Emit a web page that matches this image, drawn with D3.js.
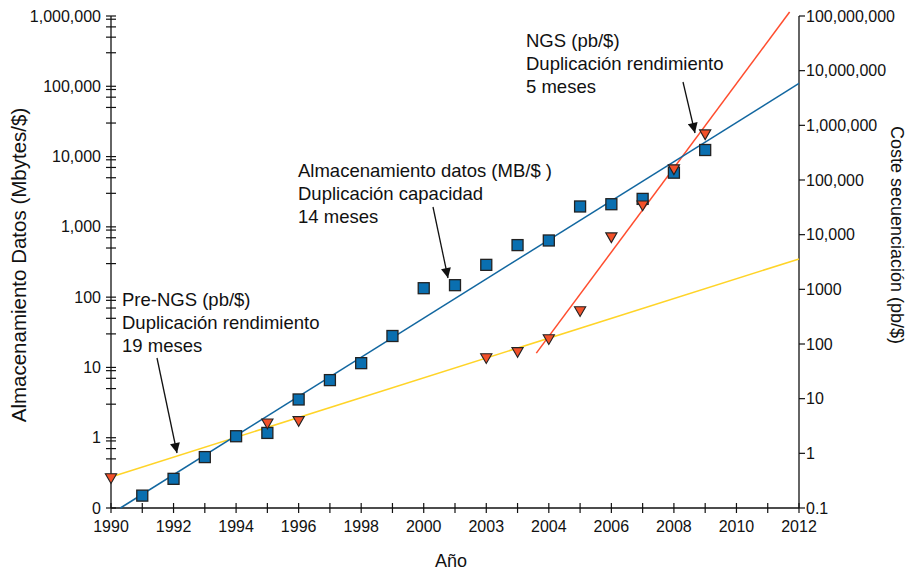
<!DOCTYPE html>
<html>
<head>
<meta charset="utf-8">
<script src="https://cdn.jsdelivr.net/npm/d3@7"></script>
<style>
body{margin:0;background:#fff;}
svg text{font-family:"Liberation Sans",Arial,Helvetica,sans-serif;fill:#111;}
</style>
</head>
<body>
<svg id="chart" width="906" height="572"></svg>
<script>
// años (posicion en el eje) y etiquetas del eje x
var xLabelYears=[1990,1992,1994,1996,1998,2000,2002,2004,2006,2008,2010,2012];
var xLabels=["1990","1992","1994","1996","1998","2000","2003","2004","2006","2008","2010","2012"];

// almacenamiento de datos (MB/$) - eje izquierdo
var storageYears=[1991,1992,1993,1994,1995,1996,1997,1998,1999,2000,2001,2002,2003,2004,2005,2006,2007,2008,2009];
var storageValues=[0.15,0.26,0.53,1.05,1.17,3.5,6.6,11.5,28,134,148,288,550,640,1950,2100,2500,5900,12400];

// coste secuenciacion (pb/$) - eje derecho
var seqYears=[1990,1995,1996,2002,2003,2004,2005,2006,2007,2008,2009];
var seqValues=[0.37,3.7,4.1,58,75,129,420,9400,36000,165000,720000];

// lineas de tendencia [año, valor]
var storageTrend=[[1990.3,0.1],[2012,110000]];
var preNgsTrend=[[1990,0.37],[2012,3600]];
var ngsTrend=[[2003.6,68],[2011.7,118000000]];

var leftTicks=[0.1,1,10,100,1000,10000,100000,1000000];
var leftLabels=["0","1","10","100","1,000","10,000","100,000","1,000,000"];
var rightTicks=[0.1,1,10,100,1000,10000,100000,1000000,10000000,100000000];
var rightLabels=["0.1","1","10","100","1000","10,000","100,000","1,000,000","10,000,000","100,000,000"];

var svg=d3.select("#chart");
var mLeft=111,mRight=799,mTop=16,mBottom=508;

var x=d3.scaleLinear().domain([1990,2012]).range([mLeft,mRight]);
var yL=d3.scaleLog().domain([0.1,1000000]).range([mBottom,mTop]);
var yR=d3.scaleLog().domain([0.1,100000000]).range([mBottom,mTop]);

// ticks menores del eje izquierdo (3,5,7,9 x 10^k)
var minor=[];
for(let k=-1;k<6;k++){
	[3,5,7,9].forEach(function(m){minor.push(m*Math.pow(10,k));});
}

// eje x
var xAxis=svg.append("g").attr("transform","translate(0,"+mBottom+")");
xAxis.append("line").attr("x1",mLeft).attr("x2",mRight).attr("stroke","#111").attr("stroke-width",1.3);
xAxis.selectAll(".xt").data(d3.range(1990,2013)).enter().append("line")
	.attr("x1",function(d){return x(d);}).attr("x2",function(d){return x(d);})
	.attr("y1",-5).attr("y2",5).attr("stroke","#111").attr("stroke-width",1.2);
xAxis.selectAll(".xl").data(xLabelYears).enter().append("text")
	.attr("x",function(d){return x(d);}).attr("y",24)
	.attr("text-anchor","middle").style("font-size","16px")
	.text(function(d,i){return xLabels[i];});

// eje izquierdo
var lAxis=svg.append("g").attr("transform","translate("+mLeft+",0)");
lAxis.append("line").attr("y1",mTop).attr("y2",mBottom).attr("stroke","#111").attr("stroke-width",1.3);
lAxis.selectAll(".lt").data(leftTicks.concat(minor)).enter().append("line")
	.attr("y1",function(d){return yL(d);}).attr("y2",function(d){return yL(d);})
	.attr("x1",-5).attr("x2",5).attr("stroke","#111").attr("stroke-width",1.2);
lAxis.selectAll(".ll").data(leftTicks).enter().append("text")
	.attr("x",-10).attr("y",function(d){return yL(d);}).attr("dy","0.35em")
	.attr("text-anchor","end").style("font-size","16px")
	.text(function(d,i){return leftLabels[i];});

// eje derecho
var rAxis=svg.append("g").attr("transform","translate("+mRight+",0)");
rAxis.append("line").attr("y1",mTop).attr("y2",mBottom).attr("stroke","#111").attr("stroke-width",1.3);
rAxis.selectAll(".rt").data(rightTicks).enter().append("line")
	.attr("y1",function(d){return yR(d);}).attr("y2",function(d){return yR(d);})
	.attr("x1",0).attr("x2",6).attr("stroke","#111").attr("stroke-width",1.2);
rAxis.selectAll(".rl").data(rightTicks).enter().append("text")
	.attr("x",7).attr("y",function(d){return yR(d);}).attr("dy","0.35em")
	.style("font-size","16px")
	.text(function(d,i){return rightLabels[i];});

// titulos
svg.append("text").attr("transform","translate(26,265) rotate(-90)")
	.attr("text-anchor","middle").style("font-size","20.5px").text("Almacenamiento Datos (Mbytes/$)");
svg.append("text").attr("transform","translate(891,235) rotate(90)")
	.attr("text-anchor","middle").style("font-size","18px").text("Coste secuenciación (pb/$)");
svg.append("text").attr("x",451).attr("y",567)
	.attr("text-anchor","middle").style("font-size","18px").text("Año");

// lineas de tendencia
var lineL=d3.line().x(function(d){return x(d[0]);}).y(function(d){return yL(d[1]);});
var lineR=d3.line().x(function(d){return x(d[0]);}).y(function(d){return yR(d[1]);});
svg.append("path").attr("d",lineR(preNgsTrend)).attr("fill","none").attr("stroke","#ffd428").attr("stroke-width",1.5);
svg.append("path").attr("d",lineR(ngsTrend)).attr("fill","none").attr("stroke","#ff4d2e").attr("stroke-width",1.5);
svg.append("path").attr("d",lineL(storageTrend)).attr("fill","none").attr("stroke","#1267a0").attr("stroke-width",1.5);

// cuadrados azules
svg.selectAll(".sq").data(storageYears).enter().append("rect")
	.attr("x",function(d){return x(d)-5.5;})
	.attr("y",function(d,i){return yL(storageValues[i])-5.5;})
	.attr("width",11).attr("height",11)
	.attr("fill","#0a6fb0").attr("stroke","#222").attr("stroke-width",1.3);

// triangulos naranjas
var tri=d3.symbol().type(d3.symbolTriangle).size(55);
svg.selectAll(".tr").data(seqYears).enter().append("path")
	.attr("d",tri)
	.attr("transform",function(d,i){return "translate("+x(d)+","+yR(seqValues[i])+") rotate(180)";})
	.attr("fill","#f2512a").attr("stroke","#222").attr("stroke-width",1.1);

// anotaciones
var notes=[
	{x:526,y:47,lines:["NGS (pb/$)","Duplicación rendimiento","5 meses"],from:[683,82],to:[695,133]},
	{x:298,y:177,lines:["Almacenamiento datos (MB/$ )","Duplicación capacidad","14 meses"],from:[433,207],to:[448,278]},
	{x:122,y:306,lines:["Pre-NGS (pb/$)","Duplicación rendimiento","19 meses"],from:[157,358],to:[177,453]}
];
svg.append("defs").append("marker").attr("id","arrow")
	.attr("viewBox","0 0 10 10").attr("refX",10).attr("refY",5)
	.attr("markerWidth",12).attr("markerHeight",10).attr("markerUnits","userSpaceOnUse")
	.attr("orient","auto")
	.append("path").attr("d","M0,0L10,5L0,10z").attr("fill","#111");
notes.forEach(function(n){
	var t=svg.append("text").style("font-size","18.5px");
	n.lines.forEach(function(s,i){
		t.append("tspan").attr("x",n.x).attr("y",n.y+i*23).text(s);
	});
	svg.append("line").attr("x1",n.from[0]).attr("y1",n.from[1])
		.attr("x2",n.to[0]).attr("y2",n.to[1])
		.attr("stroke","#111").attr("stroke-width",1.3).attr("marker-end","url(#arrow)");
});
</script>
</body>
</html>
